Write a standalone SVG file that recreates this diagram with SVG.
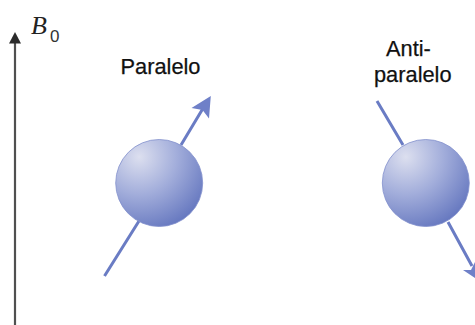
<svg xmlns="http://www.w3.org/2000/svg" width="475" height="325" viewBox="0 0 475 325">
<style>
.lbl{font-family:"Liberation Sans",Arial,sans-serif;font-size:21.8px;fill:#111;stroke:#111;stroke-width:.25}
.spin{stroke:#6a7cc4;stroke-width:3;fill:none}
.head{fill:#6f80c8}
.ball{fill:url(#sph);stroke:#8391cd;stroke-width:.8}
</style>
<defs>
<radialGradient id="sph" gradientUnits="objectBoundingBox" cx="0.27" cy="0.2" r="0.95">
<stop offset="0" stop-color="#dcdfef"/>
<stop offset="0.45" stop-color="#a3aedb"/>
<stop offset="1" stop-color="#5c6fbb"/>
</radialGradient>
</defs>
<rect width="475" height="325" fill="#fff"/>
<g id="connectors">
<path d="M15 325V40" stroke="#505050" stroke-width="2.2" fill="none"/>
<path d="M15 32L21 43.500H9Z" fill="#2b2b2b"/>
<path class="spin" d="M104.500 276L139 221M181 145L205 105"/>
<path class="head" d="M210.800 96L209 118.500L202.500 110L191.500 108Z"/>
<path class="spin" d="M377 101L403 145M448 222L472 266"/>
<path class="head" d="M463 270L471 270L475 262V278Z"/>
</g>
<g id="b0"><text x="31" y="34" style="font-family:'Liberation Serif',serif;font-style:italic;font-size:26px;fill:#222">B</text>
<text x="50" y="42" style="font-family:'Liberation Sans',sans-serif;font-size:17px;fill:#333">0</text></g>
<g id="paralelo"><circle class="ball" cx="159.200" cy="183" r="43.500"/>
<text class="lbl" x="120.500" y="74">Paralelo</text></g>
<g id="antiparalelo"><circle class="ball" cx="425.800" cy="183" r="43.500"/>
<text class="lbl" x="386" y="56">Anti-</text>
<text class="lbl" x="374" y="82">paralelo</text></g>
</svg>
